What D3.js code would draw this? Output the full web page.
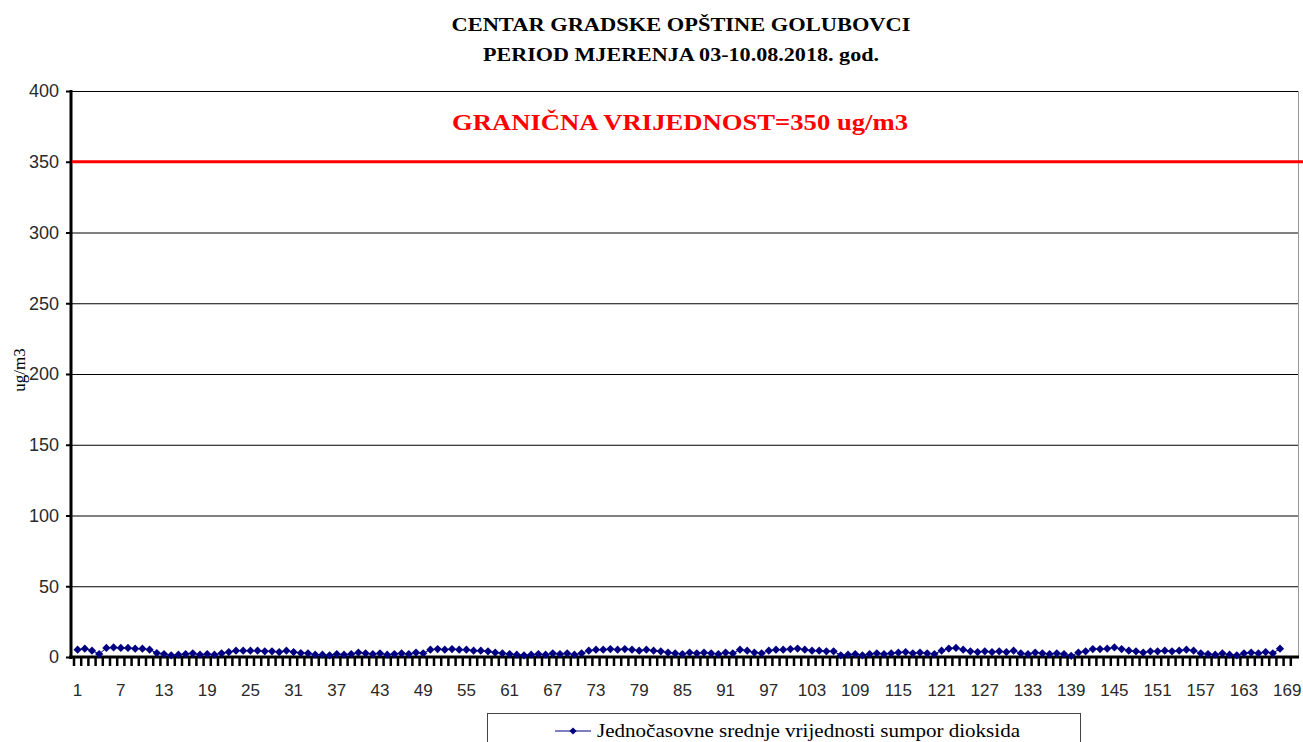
<!DOCTYPE html>
<html>
<head>
<meta charset="utf-8">
<title>Centar gradske opštine Golubovci</title>
<script src="https://cdn.jsdelivr.net/npm/d3@7"></script>
<style>
  body { margin: 0; background: #fff; }
  .serif { font-family: "Liberation Serif", "Times New Roman", serif; }
  .sans { font-family: "Liberation Sans", Arial, sans-serif; }
</style>
</head>
<body>
<svg id="chart" width="1303" height="742"></svg>
<script>
// hourly SO2 means, 03-10.08.2018 (168 hours)
var hours = d3.range(1, 171);
var so2 = [
  5.2, 5.9, 4.5, 2.1, 6.4, 6.8, 6.4, 6.4, 5.9, 5.9, 5.2, 2.8, 2.1, 1.2, 1.6, 2.1, 2.6, 1.6, 2.1, 1.6,
  2.6, 3.5, 4.5, 4.5, 4.5, 4.5, 4.0, 4.0, 3.5, 4.5, 3.5, 2.8, 2.6, 1.6, 1.6, 1.2, 2.1, 1.6, 2.1, 3.1,
  2.6, 2.1, 2.6, 1.6, 2.1, 2.6, 2.1, 3.1, 2.6, 5.2, 5.6, 5.2, 5.6, 5.2, 5.2, 4.5, 4.5, 4.0, 3.1, 2.6,
  2.1, 1.6, 1.2, 1.6, 2.1, 1.6, 2.6, 2.1, 2.6, 1.6, 2.6, 4.5, 5.2, 5.2, 5.6, 5.2, 5.6, 5.2, 4.5, 5.2,
  4.5, 4.0, 3.1, 2.6, 2.1, 3.1, 2.6, 3.1, 2.6, 2.1, 3.1, 2.6, 5.2, 4.5, 3.1, 2.6, 4.5, 5.2, 5.2, 5.6,
  6.0, 5.2, 4.5, 4.5, 4.0, 4.0, 1.2, 1.6, 2.1, 1.2, 2.1, 2.6, 2.1, 2.6, 3.1, 3.5, 2.6, 3.1, 2.6, 2.1,
  4.5, 6.0, 6.4, 5.2, 4.0, 3.5, 4.0, 3.5, 4.0, 3.5, 4.5, 2.6, 2.1, 3.1, 2.6, 2.1, 2.6, 2.1, 0.8, 3.1,
  4.0, 5.6, 5.6, 5.9, 6.8, 5.6, 4.5, 4.0, 3.1, 4.0, 4.0, 4.5, 4.0, 4.5, 5.2, 4.5, 2.6, 2.1, 1.6, 2.6,
  1.6, 1.2, 2.6, 3.1, 2.6, 3.5, 2.6, 5.9
];
var yTicks = [0, 50, 100, 150, 200, 250, 300, 350, 400];
var limitValue = [350];
var titleLines = ["CENTAR GRADSKE OPŠTINE GOLUBOVCI", "PERIOD MJERENJA 03-10.08.2018. god."];
var limitLabel = "GRANIČNA VRIJEDNOST=350 ug/m3";
var seriesName = "Jednočasovne srednje vrijednosti sumpor dioksida";

var svg = d3.select("#chart");
var pLeft = 71, pRight = 1298, pTop = 91, pBottom = 657;

var x = d3.scaleBand().domain(hours).range([74, pRight]).padding(0);
var y = d3.scaleLinear().domain([0, 400]).range([pBottom, pTop]);
var cx = function (h) { return x(h) + x.bandwidth() / 2; };

// titles
var titleW = [459, 396];
svg.selectAll("text.title").data(titleLines).enter().append("text")
  .attr("class", "title serif")
  .attr("x", 681).attr("y", function (d, i) { return 31 + i * 30; })
  .attr("text-anchor", "middle")
  .attr("textLength", function (d, i) { return titleW[i]; })
  .attr("lengthAdjust", "spacingAndGlyphs")
  .style("font-size", "19px").style("font-weight", "bold")
  .text(function (d) { return d; });

// grid
svg.append("g").selectAll("line").data(yTicks.filter(function (d) { return d > 0; })).enter()
  .append("line")
  .attr("x1", pLeft).attr("x2", pRight)
  .attr("y1", function (d) { return y(d) + 0.5; }).attr("y2", function (d) { return y(d) + 0.5; })
  .style("stroke", "#000").style("stroke-width", 1);

// right border of plot
svg.append("line").attr("x1", pRight + 0.5).attr("x2", pRight + 0.5).attr("y1", pTop).attr("y2", pBottom)
  .style("stroke", "#999").style("stroke-width", 1);

// y axis
var yAxis = svg.append("g").attr("transform", "translate(" + pLeft + ",0)")
  .call(d3.axisLeft(y).tickValues(yTicks).tickSize(5).tickPadding(7));
yAxis.select(".domain").remove();
yAxis.selectAll(".tick line").style("stroke", "#000").style("stroke-width", 2);
yAxis.selectAll(".tick text").attr("class", "sans").style("font-size", "18px").style("fill", "#2a2a2a");
svg.append("line").attr("x1", pLeft).attr("x2", pLeft).attr("y1", pTop - 1).attr("y2", pBottom + 2)
  .style("stroke", "#000").style("stroke-width", 3);

// limit line
svg.selectAll("line.limit").data(limitValue).enter().append("line")
  .attr("class", "limit")
  .attr("x1", pLeft + 1).attr("x2", 1303)
  .attr("y1", function (d) { return y(d); }).attr("y2", function (d) { return y(d); })
  .style("stroke", "#ff0000").style("stroke-width", 3);
svg.append("text").attr("class", "serif")
  .attr("x", 680).attr("y", y(350) - 32)
  .attr("text-anchor", "middle")
  .attr("textLength", 456).attr("lengthAdjust", "spacingAndGlyphs")
  .style("font-size", "23px").style("font-weight", "bold").style("fill", "#ff0000")
  .text(limitLabel);

// y title
svg.append("text").attr("class", "serif")
  .attr("transform", "translate(25," + 370 + ") rotate(-90)")
  .attr("text-anchor", "middle")
  .style("font-size", "17px")
  .text("ug/m3");

// x axis: ticks at every hour, labels every 6th
var xAxis = svg.append("g").attr("transform", "translate(0," + pBottom + ")")
  .call(d3.axisBottom(x).tickSize(9).tickPadding(18)
    .tickFormat(function (d) { return (d - 1) % 6 === 0 ? d : ""; }));
xAxis.select(".domain").remove();
xAxis.selectAll(".tick line").attr("transform", "translate(" + (-x.bandwidth() / 2) + ",0)")
  .style("stroke", "#000").style("stroke-width", 2.5);
xAxis.selectAll(".tick text").attr("class", "sans").style("font-size", "17px").style("fill", "#2a2a2a");
svg.append("line").attr("x1", pLeft - 2).attr("x2", pRight + 1).attr("y1", pBottom).attr("y2", pBottom)
  .style("stroke", "#000").style("stroke-width", 3);

// series
var line = d3.line()
  .x(function (d, i) { return cx(hours[i]); })
  .y(function (d) { return y(d); });
svg.append("path").datum(so2).attr("d", line)
  .style("fill", "none").style("stroke", "#000080").style("stroke-width", 1);
var diamond = d3.symbol().type(d3.symbolSquare).size(34);
svg.append("g").selectAll("path").data(so2).enter().append("path")
  .attr("d", diamond)
  .attr("transform", function (d, i) { return "translate(" + cx(hours[i]) + "," + y(d) + ") rotate(45)"; })
  .style("fill", "#000080");

// legend
var lg = svg.append("g");
lg.append("rect").attr("x", 487.5).attr("y", 713.5).attr("width", 593).attr("height", 40)
  .style("fill", "#fff").style("stroke", "#444").style("stroke-width", 1);
lg.append("line").attr("x1", 555).attr("x2", 591).attr("y1", 731).attr("y2", 731)
  .style("stroke", "#000080").style("stroke-width", 1);
lg.append("path").attr("d", d3.symbol().type(d3.symbolSquare).size(26))
  .attr("transform", "translate(573,731) rotate(45)").style("fill", "#000080");
lg.append("text").attr("class", "serif")
  .attr("x", 597).attr("y", 737)
  .attr("textLength", 423).attr("lengthAdjust", "spacingAndGlyphs")
  .style("font-size", "18px")
  .text(seriesName);
</script>
</body>
</html>
